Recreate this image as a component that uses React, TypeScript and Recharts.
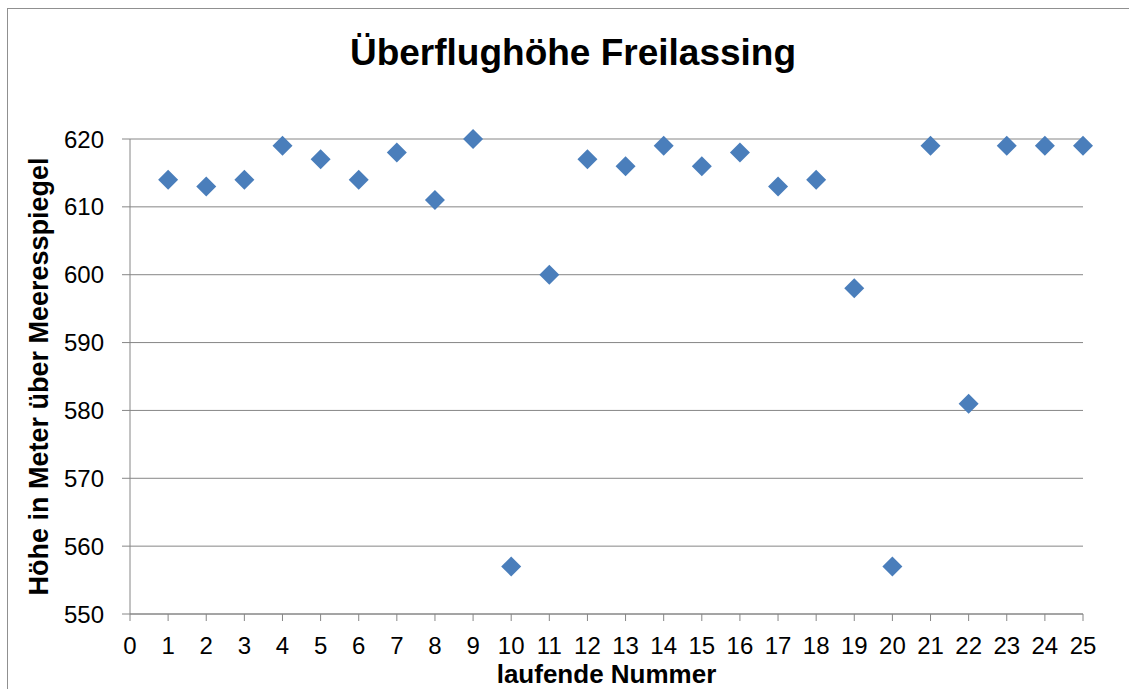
import React from "react";
import {
  CartesianGrid,
  Label,
  Scatter,
  ScatterChart,
  XAxis,
  YAxis
} from "recharts";

const laufendeNummer = [1, 2, 3, 4, 5, 6, 7, 8, 9, 10, 11, 12, 13, 14, 15, 16, 17, 18, 19, 20, 21, 22, 23, 24, 25];
const hoehe = [614, 613, 614, 619, 617, 614, 618, 611, 620, 557, 600, 617, 616, 619, 616, 618, 613, 614, 598, 557, 619, 581, 619, 619, 619];
const xTicks = [0, 1, 2, 3, 4, 5, 6, 7, 8, 9, 10, 11, 12, 13, 14, 15, 16, 17, 18, 19, 20, 21, 22, 23, 24, 25];
const yTicks = [550, 560, 570, 580, 590, 600, 610, 620];

const data = laufendeNummer.map((nr, i) => ({ nr, hoehe: hoehe[i] }));

const FONT = "'Liberation Sans', Arial, sans-serif";
const AXIS = "#868686";
const MARKER = "#4a7ebb";

function Diamond(props: any) {
  const { cx, cy } = props;
  if (cx == null || cy == null) return null;
  const r = 10;
  return (
    <path
      d={`M${cx},${cy - r}L${cx + r},${cy}L${cx},${cy + r}L${cx - r},${cy}Z`}
      fill={MARKER}
    />
  );
}

export default function App() {
  return (
    <div
      style={{
        position: "absolute",
        left: 0,
        top: 0,
        width: 1129,
        height: 689,
        overflow: "hidden",
        background: "#fff",
        fontFamily: FONT
      }}
    >
      <div
        style={{
          position: "absolute",
          left: 7,
          top: 8,
          width: 1140,
          height: 700,
          border: "1px solid #909090"
        }}
      />
      <div
        style={{
          position: "absolute",
          left: 0,
          top: 34,
          width: 1146,
          textAlign: "center",
          fontSize: 37,
          lineHeight: "37px",
          fontWeight: "bold",
          color: "#000"
        }}
      >
        Überflughöhe Freilassing
      </div>
      <div style={{ position: "absolute", left: 0, top: 0 }}>
        <ScatterChart
          width={1129}
          height={689}
          margin={{ top: 139, right: 46, bottom: 0, left: 8 }}
          style={{ fontFamily: FONT }}
        >
          <CartesianGrid vertical={false} stroke={AXIS} strokeWidth={1} />
          <XAxis
            type="number"
            dataKey="nr"
            domain={[0, 25]}
            ticks={xTicks}
            interval={0}
            height={75}
            stroke={AXIS}
            tickSize={7}
            tickMargin={16}
            tick={{ fill: "#000", fontSize: 24, fontFamily: FONT }}
          >
            <Label
              value="laufende Nummer"
              position="insideBottom"
              offset={6}
              style={{ fontSize: 26, fontWeight: "bold", fill: "#000", fontFamily: FONT }}
            />
          </XAxis>
          <YAxis
            type="number"
            dataKey="hoehe"
            domain={[550, 620]}
            ticks={yTicks}
            interval={0}
            width={122}
            stroke={AXIS}
            tickSize={8}
            tickMargin={18}
            tick={{ fill: "#000", fontSize: 24, fontFamily: FONT }}
          >
            <Label
              value="Höhe in Meter über Meeresspiegel"
              angle={-90}
              position="insideLeft"
              offset={30}
              textAnchor="middle"
              style={{ fontSize: 27, fontWeight: "bold", fill: "#000", fontFamily: FONT, textAnchor: "middle" }}
            />
          </YAxis>
          <Scatter data={data} shape={<Diamond />} isAnimationActive={false} />
        </ScatterChart>
      </div>
    </div>
  );
}
